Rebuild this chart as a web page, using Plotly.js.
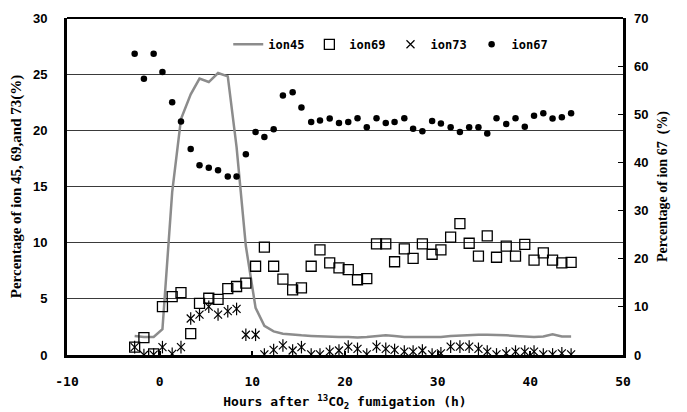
<!DOCTYPE html>
<html><head><meta charset="utf-8">
<script src="https://cdn.plot.ly/plotly-3.0.1.min.js"></script>
<style>html,body{margin:0;padding:0;background:#fff}#chart{width:687px;height:412px}</style>
</head><body><div id="chart"></div>
<script>
const hours = [-2.7,-1.7,-0.65,0.3,1.35,2.3,3.35,4.3,5.3,6.3,7.35,8.3,9.3,10.35,11.3,12.3,13.3,14.35,15.3,16.35,17.3,18.35,19.35,20.35,21.35,22.35,23.4,24.4,25.35,26.4,27.35,28.35,29.4,30.35,31.4,32.4,33.4,34.4,35.35,36.35,37.4,38.4,39.4,40.4,41.4,42.4,43.4,44.4];
const ion45 = [1.7,1.6,1.6,2.3,14.5,21.0,23.2,24.6,24.3,25.1,24.8,18.5,9.7,4.2,2.6,2.1,1.9,1.8,1.75,1.7,1.65,1.6,1.6,1.6,1.55,1.6,1.7,1.75,1.7,1.6,1.6,1.6,1.6,1.6,1.7,1.75,1.8,1.8,1.8,1.8,1.75,1.7,1.65,1.6,1.65,1.85,1.65,1.65];
const ion69 = [0.7,1.55,0.1,4.3,5.2,5.55,1.9,4.6,5.05,4.95,5.9,6.1,6.4,7.9,9.6,7.9,6.75,5.8,5.97,7.9,9.35,8.2,7.75,7.6,6.7,6.8,9.9,9.9,8.3,9.45,8.6,9.9,8.97,9.36,10.5,11.7,9.95,8.8,10.6,8.7,9.7,8.8,9.85,8.45,9.1,8.45,8.2,8.25];
const ion73 = [0.7,0.0,0.03,0.7,0.1,0.7,3.25,3.6,4.3,3.6,3.9,4.1,1.8,1.8,0.05,0.45,0.85,0.4,0.7,0.05,0.05,0.3,0.4,0.75,0.55,0.05,0.75,0.55,0.45,0.3,0.3,0.4,0.05,0.15,0.75,0.75,0.75,0.55,0.3,0.05,0.15,0.3,0.3,0.3,0.05,0.05,0.15,0.05];
const ion67 = [62.6,57.4,62.6,58.8,52.5,48.5,42.8,39.4,38.9,38.4,37.1,37.1,41.7,46.3,45.3,46.9,53.9,54.6,51.4,48.4,48.7,49.1,48.2,48.4,49.2,47.3,49.2,48.2,48.4,49.2,47.0,46.5,48.6,48.1,47.3,46.3,47.3,47.3,46.0,49.2,48.0,49.2,47.4,49.7,50.2,49.1,49.4,50.2];
const seriesNames = ['ion45','ion69','ion73','ion67'];
const xTickVals = [-10,0,10,20,30,40,50];
const yLeftTicks = [0,5,10,15,20,25,30];
const yRightTicks = [0,10,20,30,40,50,60,70];

const mono = 'DejaVu Sans Mono, monospace';
const sans = 'Liberation Sans, Arial, sans-serif';
const serif = 'Liberation Serif, Times New Roman, serif';

const traces = [
  {x: hours, y: ion45, name: seriesNames[0], type: 'scatter', mode: 'lines',
   line: {color: '#8c8c8c', width: 2.5}, yaxis: 'y'},
  {x: hours, y: ion69, name: seriesNames[1], type: 'scatter', mode: 'markers',
   marker: {symbol: 'square-open', size: 10, color: '#000', line: {width: 1.3, color: '#000'}}, yaxis: 'y'},
  {x: hours, y: ion73, name: seriesNames[2], type: 'scatter', mode: 'markers',
   marker: {symbol: 'x-thin-open', size: 8, color: '#000', line: {width: 1.2, color: '#000'}}, yaxis: 'y'},
  {x: hours, y: ion73, name: seriesNames[2], type: 'scatter', mode: 'markers', showlegend: false, hoverinfo: 'skip',
   marker: {symbol: 'line-ns-open', size: 9, color: '#000', line: {width: 1.2, color: '#000'}}, yaxis: 'y'},
  {x: hours, y: ion67, name: seriesNames[3], type: 'scatter', mode: 'markers',
   marker: {symbol: 'circle', size: 6.5, color: '#000'}, yaxis: 'y2'}
];

const layout = {
  width: 687, height: 412,
  margin: {l: 67, r: 64, t: 18, b: 57},
  paper_bgcolor: '#fff', plot_bgcolor: '#fff',
  showlegend: true,
  legend: {orientation: 'h', x: 0.29, y: 0.965, xanchor: 'left', yanchor: 'top',
           font: {family: mono, size: 12, color: '#000', weight: 'bold'},
           bgcolor: 'rgba(0,0,0,0)', itemwidth: 30},
  xaxis: {range: [-10, 50], tickvals: xTickVals, ticktext: xTickVals.map(String),
          showgrid: false, zeroline: false, showline: true, linecolor: '#000', linewidth: 3,
          ticks: 'inside', ticklen: 4, tickwidth: 2, tickcolor: '#000', ticklabelstandoff: 12,
          tickfont: {family: mono, size: 13, color: '#000', weight: 'bold'},
          title: {text: 'Hours after <sup>13</sup>CO<sub>2</sub> fumigation (h)',
                  font: {family: mono, size: 13, color: '#000', weight: 'bold'}, standoff: 10}},
  yaxis: {range: [0, 30], tickvals: yLeftTicks, ticktext: yLeftTicks.map(String),
          showgrid: true, gridcolor: '#3a3a3a', gridwidth: 1, zeroline: false,
          showline: true, linecolor: '#000', linewidth: 3, ticks: '', ticklabelstandoff: 14,
          tickfont: {family: sans, size: 13, color: '#000', weight: 'bold'},
          title: {text: 'Percentage of ion 45, 69,and 73(%)',
                  font: {family: serif, size: 15, color: '#000', weight: 'bold'}, standoff: 8}},
  yaxis2: {range: [0, 70], tickvals: yRightTicks, ticktext: yRightTicks.map(String),
           overlaying: 'y', side: 'right', showgrid: false, zeroline: false,
           showline: true, linecolor: '#000', linewidth: 2.5,
           ticks: 'inside', ticklen: 5, tickwidth: 1, tickcolor: '#000', ticklabelstandoff: 6,
           tickfont: {family: sans, size: 13, color: '#000', weight: 'bold'},
           title: {text: 'Percentage of ion 67  (%)',
                   font: {family: serif, size: 14, color: '#000', weight: 'bold'}, standoff: 10}},
  shapes: [{type: 'line', xref: 'paper', yref: 'paper', x0: 0, x1: 1, y0: 1, y1: 1,
            line: {color: '#000', width: 2}}]
};

Plotly.newPlot('chart', traces, layout, {displayModeBar: false, staticPlot: true});
</script>
</body></html>
